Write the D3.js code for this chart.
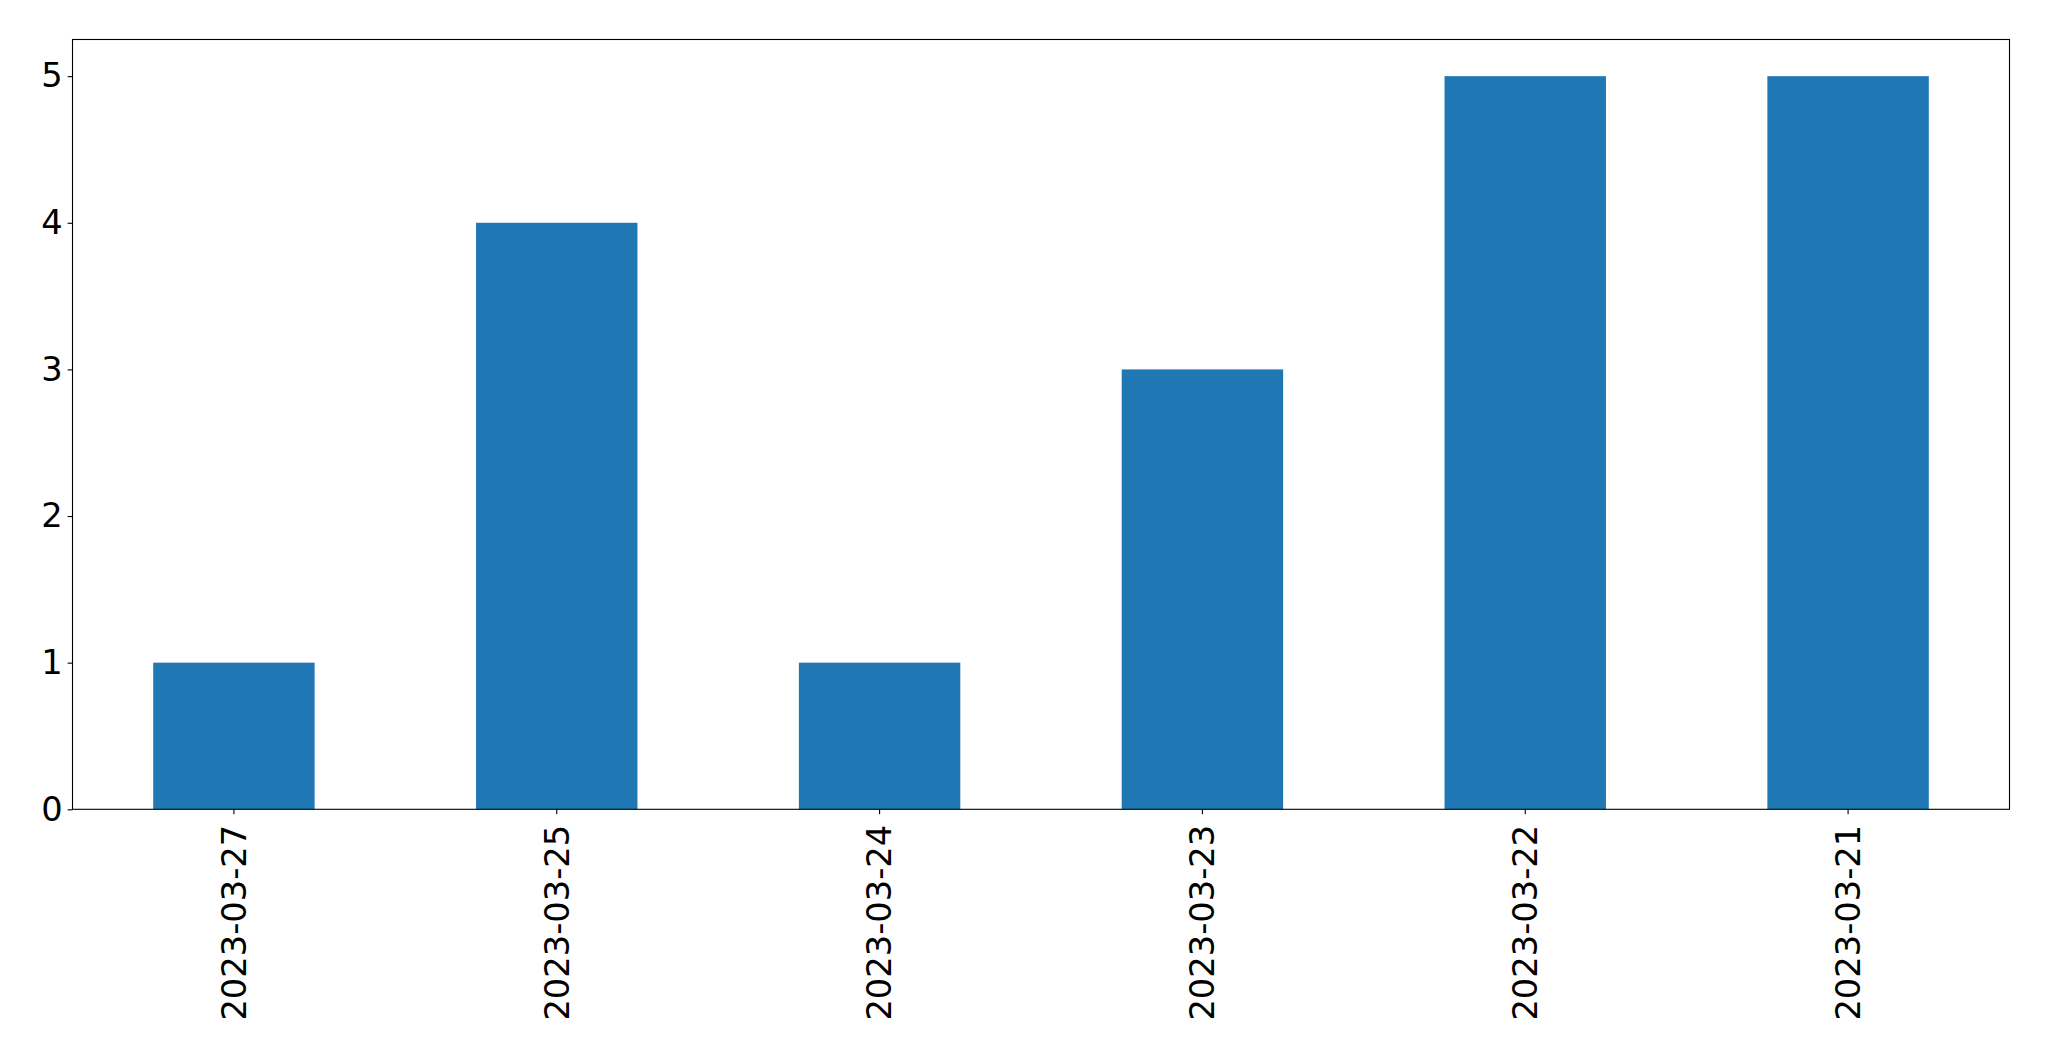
<!DOCTYPE html>
<html><head><meta charset="utf-8">
<script src="https://cdn.jsdelivr.net/npm/d3@7"></script>
<style>body{margin:0;background:#fff}svg{display:block}</style>
</head><body>
<script>
const categories = ["2023-03-27","2023-03-25","2023-03-24","2023-03-23","2023-03-22","2023-03-21"];
const values = [1,4,1,3,5,5];
const yTicks = [0,1,2,3,4,5];

const W = 2049, H = 1061;
const m = {left:72.5, right:2009.5, top:39.5, bottom:809.3};
const svg = d3.select("body").append("svg").attr("width",W).attr("height",H);

const x = d3.scaleBand().domain(categories).range([m.left,m.right]).paddingInner(0.5).paddingOuter(0.25);
const y = d3.scaleLinear().domain([0,5.25]).range([m.bottom,m.top]);

svg.append("g").selectAll("rect").data(values).join("rect")
  .attr("x",(d,i)=>x(categories[i]))
  .attr("width",x.bandwidth())
  .attr("y",d=>y(d))
  .attr("height",d=>y(0)-y(d))
  .attr("fill","#1f77b4");

const font = "DejaVu Sans";
const fs = 33.7;
const ya = svg.append("g").attr("transform",`translate(${m.left},0)`)
  .call(d3.axisLeft(y).tickValues(yTicks).tickFormat(d3.format("d")).tickSize(4.9).tickPadding(4.9));
ya.select(".domain").remove();
ya.selectAll("text").attr("font-family",font).attr("font-size",fs).attr("fill","#000");
ya.selectAll("line").attr("stroke","#000").attr("stroke-width",1.1);

const xa = svg.append("g").attr("transform",`translate(0,${m.bottom})`)
  .call(d3.axisBottom(x).tickSize(4.9).tickPadding(4.9));
xa.select(".domain").remove();
xa.selectAll("line").attr("stroke","#000").attr("stroke-width",1.1);
xa.selectAll("text").attr("font-family",font).attr("font-size",fs).attr("fill","#000")
  .attr("transform","rotate(-90)")
  .attr("text-anchor","end")
  .attr("x",-15.5).attr("y",0).attr("dy","0.35em");

svg.append("rect").attr("x",m.left).attr("y",m.top)
  .attr("width",m.right-m.left).attr("height",m.bottom-m.top)
  .attr("fill","none").attr("stroke","#000").attr("stroke-width",1.1);
</script>
</body></html>
